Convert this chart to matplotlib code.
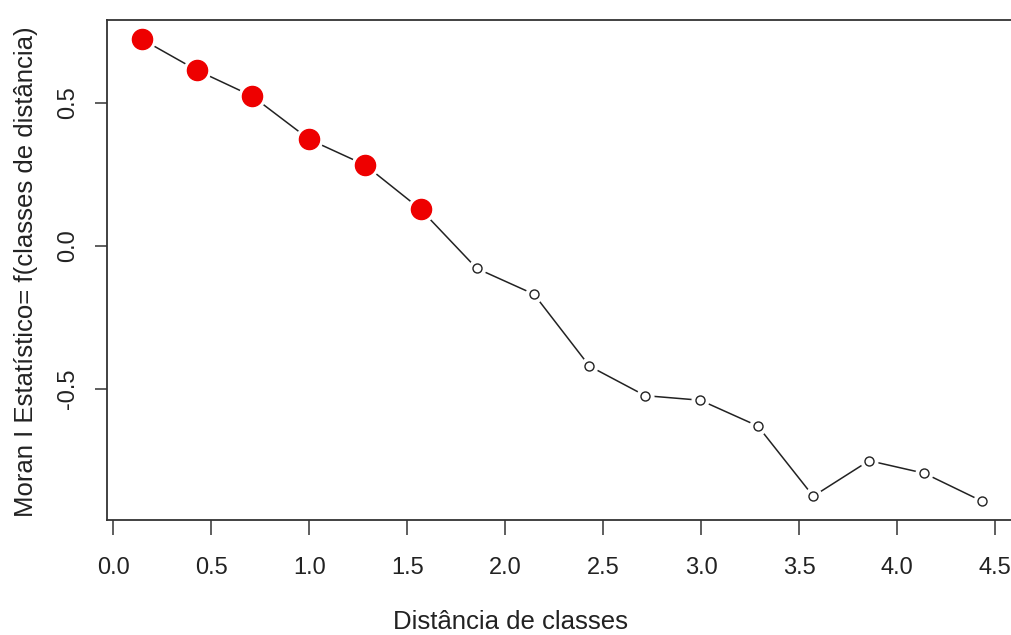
import matplotlib
matplotlib.use("Agg")
import matplotlib.pyplot as plt

# Data
dist = [0.145, 0.425, 0.709, 1.000, 1.284, 1.568, 1.854, 2.146,
        2.429, 2.713, 2.995, 3.288, 3.571, 3.856, 4.138, 4.431]
moran = [0.721, 0.613, 0.522, 0.371, 0.282, 0.127, -0.079, -0.169,
         -0.420, -0.523, -0.539, -0.629, -0.874, -0.750, -0.794, -0.891]
significant = [True] * 6 + [False] * 10

xticks = [0.0, 0.5, 1.0, 1.5, 2.0, 2.5, 3.0, 3.5, 4.0, 4.5]
xticklabels = ["0.0", "0.5", "1.0", "1.5", "2.0", "2.5", "3.0", "3.5", "4.0", "4.5"]
yticks = [-0.5, 0.0, 0.5]
yticklabels = ["-0.5", "0.0", "0.5"]

plt.rcParams['font.family'] = ['Liberation Sans', 'DejaVu Sans']
txt = '#222222'

fig = plt.figure(figsize=(10.12, 6.35), dpi=100)
ax_left = 107.3 / 1012
ax = fig.add_axes([ax_left, (635 - 520) / 635, 1 - ax_left, 500 / 635])

ax.plot(dist, moran, color='#222222', lw=1.1, zorder=1)

sig_x = [x for x, s in zip(dist, significant) if s]
sig_y = [y for y, s in zip(moran, significant) if s]
ns_x = [x for x, s in zip(dist, significant) if not s]
ns_y = [y for y, s in zip(moran, significant) if not s]

# white halos to emulate R's type="b" gaps
ax.plot(sig_x, sig_y, 'o', ms=19, color='white', mec='white', zorder=2)
ax.plot(ns_x, ns_y, 'o', ms=12, color='white', mec='white', zorder=2)
ax.plot(sig_x, sig_y, 'o', ms=14.5, color='#ee0000', mec='#ee0000', zorder=3)
ax.plot(ns_x, ns_y, 'o', ms=6.5, mfc='white', mec='#222222', mew=1.0, zorder=3)

ax.set_xlim(-0.031, 4.585)
ax.set_ylim(-0.957, 0.788)

ax.set_xticks(xticks)
ax.set_xticklabels(xticklabels)
ax.set_yticks(yticks)
ax.set_yticklabels(yticklabels, rotation=90, va='center')

ax.tick_params(axis='x', length=10.5, width=1.1, color='#333333', pad=16,
               labelsize=17, labelcolor=txt)
ax.tick_params(axis='y', length=8.5, width=1.1, color='#333333', pad=12,
               labelsize=17, labelcolor=txt)

for s in ['left', 'bottom', 'top']:
    ax.spines[s].set_linewidth(1.3)
    ax.spines[s].set_color('#333333')
ax.spines['right'].set_visible(False)

ax_w = 1012 * (1 - ax_left)
ax.set_xlabel('Distância de classes', fontsize=18.5, color=txt, va='center')
ax.xaxis.set_label_coords((511 - 107.3) / ax_w, -(622 - 520) / 500)
ax.set_ylabel('Moran I Estatístico= f(classes de distância)', fontsize=18.5,
              color=txt, va='center')
ax.yaxis.set_label_coords(-(107.3 - 26) / ax_w, (520 - 272) / 500)

fig.savefig('out.png', dpi=100)
